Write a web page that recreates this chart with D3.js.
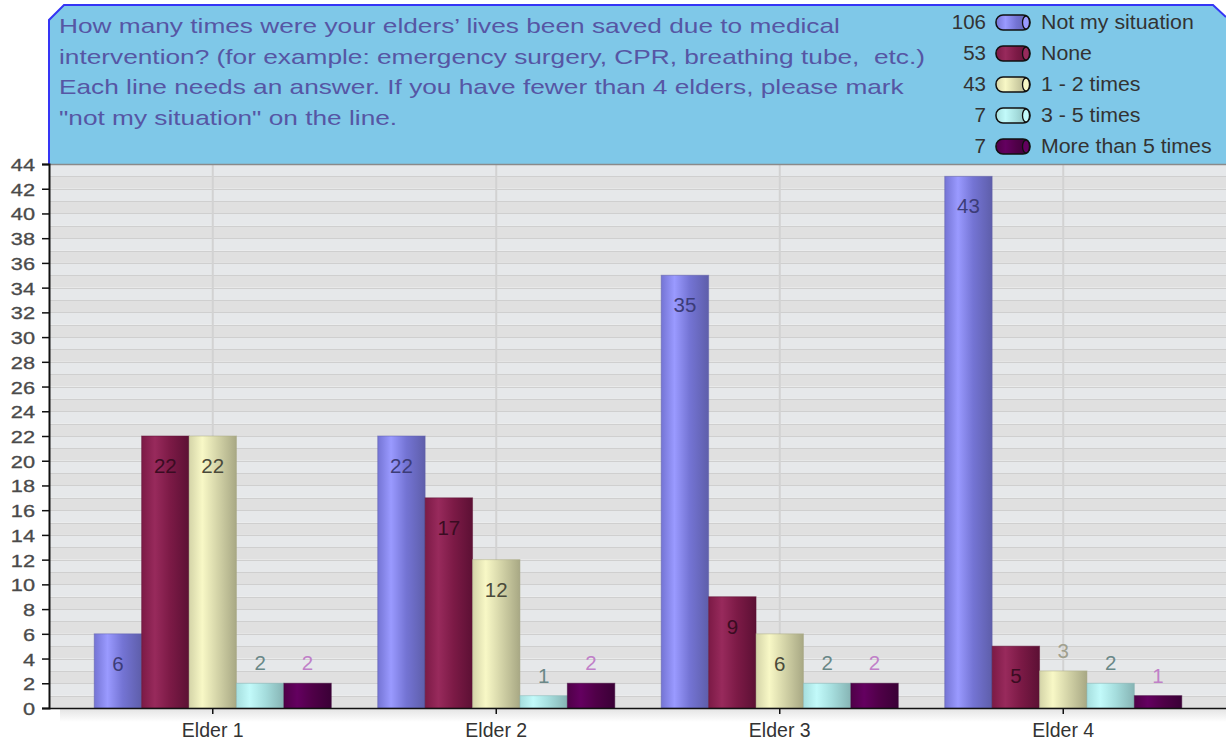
<!DOCTYPE html>
<html>
<head>
<meta charset="utf-8">
<script src="https://cdn.jsdelivr.net/npm/d3@7"></script>
<style>
  html, body { margin: 0; padding: 0; background: #ffffff; }
  svg { display: block; font-family: "Liberation Sans", Arial, sans-serif; }
  .title { white-space: pre; }
</style>
</head>
<body>
<svg id="chart" width="1226" height="745"></svg>
<script>
// ---------- data ----------
const categories = ["Elder 1", "Elder 2", "Elder 3", "Elder 4"];
const seriesNames = ["Not my situation", "None", "1 - 2 times", "3 - 5 times", "More than 5 times"];
const notMySituation = [6, 22, 35, 43];
const none = [22, 17, 9, 5];
const oneToTwo = [22, 12, 6, 3];
const threeToFive = [2, 1, 2, 2];
const moreThanFive = [2, 2, 2, 1];
const yTicks = d3.range(0, 45, 2);
const titleLines = [
  "How many times were your elders\u2019 lives been saved due to medical",
  "intervention? (for example: emergency surgery, CPR, breathing tube,  etc.)",
  "Each line needs an answer. If you have fewer than 4 elders, please mark",
  "\"not my situation\" on the line."
];

const seriesValues = [notMySituation, none, oneToTwo, threeToFive, moreThanFive];

// ---------- styles ----------
const palette = [
  { edge: "#7474d4", light: "#9a9aff", dark: "#5e5eaa", inText: "#3c3c78", outText: "#6a6ab0" },
  { edge: "#7c1a46", light: "#982a5c", dark: "#5c1034", inText: "#3a0c22", outText: "#8a3a5a" },
  { edge: "#d4d4a8", light: "#f8f8c6", dark: "#a8a884", inText: "#4a4a3a", outText: "#a0a08e" },
  { edge: "#a6dede", light: "#c2fafa", dark: "#86b4b4", inText: "#4a6868", outText: "#6a8888" },
  { edge: "#500048", light: "#640060", dark: "#3a0036", inText: "#e0c0e0", outText: "#c080c8" }
];

const svg = d3.select("#chart");
const plot = { left: 49, right: 1226, top: 164, bottom: 708 };

const defs = svg.append("defs");
palette.forEach((p, i) => {
  const g = defs.append("linearGradient").attr("id", "grad" + i)
    .attr("x1", "0%").attr("x2", "100%").attr("y1", "0%").attr("y2", "0%");
  g.append("stop").attr("offset", "0%").attr("stop-color", p.edge);
  g.append("stop").attr("offset", "28%").attr("stop-color", p.light);
  g.append("stop").attr("offset", "60%").attr("stop-color", p.edge);
  g.append("stop").attr("offset", "100%").attr("stop-color", p.dark);
});
const shadow = defs.append("linearGradient").attr("id", "shadow")
  .attr("x1", "0%").attr("x2", "0%").attr("y1", "0%").attr("y2", "100%");
shadow.append("stop").attr("offset", "0%").attr("stop-color", "#e2e2e2");
shadow.append("stop").attr("offset", "100%").attr("stop-color", "#ffffff");

// ---------- scales ----------
const y = d3.scaleLinear().domain([0, 44]).range([plot.bottom, plot.top]);
const x0 = d3.scaleBand().domain(categories).range([71, 1205]).padding(0);
const x1 = d3.scaleBand().domain(seriesNames).range([0, x0.bandwidth()])
  .paddingInner(0).paddingOuter(0.49);

// ---------- plot background ----------
const bg = svg.append("g");
const units = d3.range(0, 44);
bg.selectAll("rect.band").data(units).join("rect")
  .attr("x", plot.left).attr("width", plot.right - plot.left)
  .attr("y", d => y(d + 1)).attr("height", d => y(d) - y(d + 1))
  .attr("fill", d => d % 2 === 0 ? "#e0e0e0" : "#e6e8ea");
bg.selectAll("line.hg").data(d3.range(1, 44)).join("line")
  .attr("x1", plot.left).attr("x2", plot.right)
  .attr("y1", d => Math.round(y(d)) + 0.5).attr("y2", d => Math.round(y(d)) + 0.5)
  .attr("stroke", "#cfcfcf").attr("stroke-width", 1);
bg.selectAll("line.vg").data(categories).join("line")
  .attr("x1", d => x0(d) + x0.bandwidth() / 2).attr("x2", d => x0(d) + x0.bandwidth() / 2)
  .attr("y1", plot.top).attr("y2", plot.bottom)
  .attr("stroke", "#d2d2d2").attr("stroke-width", 2);

// shadow below x axis
svg.append("rect").attr("x", 60).attr("y", plot.bottom).attr("width", plot.right - 60).attr("height", 14)
  .attr("fill", "url(#shadow)");

// ---------- title box ----------
const box = svg.append("g");
box.append("path")
  .attr("d", `M${plot.left},${plot.top} L${plot.left},20 L64,5 L1213,5 L1226,17 L1226,${plot.top} Z`)
  .attr("fill", "#7fc8e8");
box.append("path")
  .attr("d", `M${plot.left},${plot.top} L${plot.left},20 L64,5 L1213,5 L1226,17`)
  .attr("fill", "none").attr("stroke", "#3535f5").attr("stroke-width", 2);
svg.append("line").attr("x1", plot.left).attr("x2", plot.right)
  .attr("y1", plot.top + 0.5).attr("y2", plot.top + 0.5)
  .attr("stroke", "#8a8a8a").attr("stroke-width", 1.5);

const titleSx = 1.25;
box.selectAll("text.title").data(titleLines).join("text")
  .attr("class", "title")
  .attr("xml:space", "preserve")
  .attr("transform", (d, i) => `translate(59,${33 + i * 30.5}) scale(${titleSx},1)`)
  .attr("font-size", 21).attr("fill", "#5656a4")
  .text(d => d);

// ---------- legend ----------
const legend = svg.append("g");
const legendRows = legend.selectAll("g.row").data(seriesNames).join("g")
  .attr("transform", (d, i) => `translate(0,${22 + i * 31})`);
legendRows.append("text").attr("x", 986).attr("y", 7).attr("text-anchor", "end")
  .attr("font-size", 20.5).attr("fill", "#333333")
  .text((d, i) => d3.sum(seriesValues[i]));
legendRows.append("rect").attr("x", 996).attr("y", -7).attr("width", 34).attr("height", 15)
  .attr("rx", 7).attr("ry", 7)
  .attr("fill", (d, i) => `url(#grad${i})`).attr("stroke", "#111").attr("stroke-width", 1.5);
legendRows.append("ellipse").attr("cx", 1026).attr("cy", 0.5).attr("rx", 3.5).attr("ry", 6.5)
  .attr("fill", (d, i) => palette[i].light).attr("stroke", "#111").attr("stroke-width", 1.3);
legendRows.append("text")
  .attr("transform", "translate(1041,7) scale(1.04,1)")
  .attr("font-size", 20.5).attr("fill", "#333333")
  .text(d => d);

// ---------- bars ----------
const groups = svg.append("g").selectAll("g.cat").data(categories).join("g")
  .attr("transform", d => `translate(${x0(d)},0)`);
const barData = (c, ci) => seriesNames.map((s, si) => ({ s, si, v: seriesValues[si][ci] }));
groups.each(function (c, ci) {
  const g = d3.select(this);
  const data = barData(c, ci);
  g.selectAll("rect").data(data).join("rect")
    .attr("x", d => x1(d.s)).attr("width", x1.bandwidth())
    .attr("y", d => y(d.v)).attr("height", d => y(0) - y(d.v))
    .attr("fill", d => `url(#grad${d.si})`)
    .attr("stroke", d => palette[d.si].dark).attr("stroke-opacity", 0.5).attr("stroke-width", 1);
  g.selectAll("text").data(data).join("text")
    .attr("x", d => x1(d.s) + x1.bandwidth() / 2)
    .attr("y", d => (y(0) - y(d.v)) >= 45 ? y(d.v) + 37 : y(d.v) - 13)
    .attr("text-anchor", "middle").attr("font-size", 20.5)
    .attr("fill", d => (y(0) - y(d.v)) >= 45 ? palette[d.si].inText : palette[d.si].outText)
    .text(d => d.v);
});

// ---------- axes ----------
const yAxis = svg.append("g").attr("transform", `translate(${plot.left},0)`)
  .call(d3.axisLeft(y).tickValues(yTicks).tickSize(7).tickPadding(0).tickFormat(d3.format("d")));
yAxis.select(".domain").attr("stroke", "#111").attr("stroke-width", 2);
yAxis.selectAll(".tick line").attr("stroke", "#111").attr("stroke-width", 1.5);
yAxis.selectAll(".tick text").attr("font-size", 17).attr("fill", "#4a4a4a")
  .attr("font-family", "Liberation Sans, Arial, sans-serif")
  .attr("x", null).attr("dy", null)
  .attr("stroke", "#4a4a4a").attr("stroke-width", 0.3)
  .attr("transform", "translate(-14,6.5) scale(1.28,1)");

const xAxis = svg.append("g").attr("transform", `translate(0,${plot.bottom})`)
  .call(d3.axisBottom(x0).tickSize(6).tickPadding(0).tickSizeOuter(0));
xAxis.select(".domain").attr("d", `M${plot.left},0.5H${plot.right}`).attr("stroke", "#111").attr("stroke-width", 1.5);
xAxis.selectAll(".tick line").attr("stroke", "#111").attr("stroke-width", 1.5);
xAxis.selectAll(".tick text").attr("font-size", 19.5).attr("fill", "#333333")
  .attr("font-family", "Liberation Sans, Arial, sans-serif")
  .attr("dy", null).attr("y", 29);
</script>
</body>
</html>
